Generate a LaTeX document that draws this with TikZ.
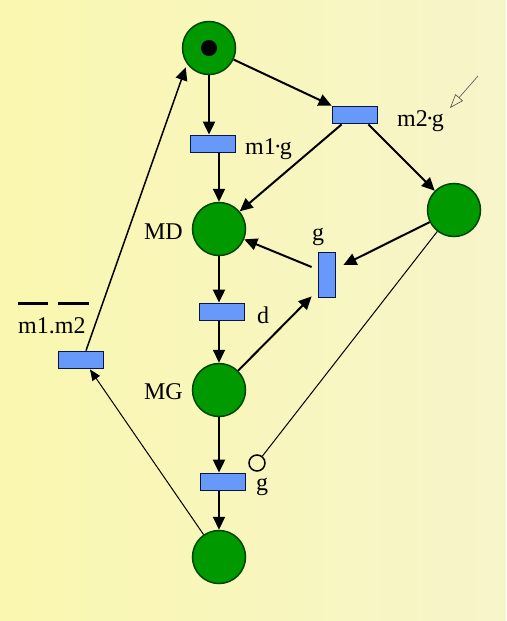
\documentclass[tikz,border=0pt]{standalone}
\usepackage{fontspec}
\setmainfont{Liberation Serif}
\usetikzlibrary{arrows.meta}
\definecolor{bgleft}{RGB}{250,247,176}
\definecolor{bgright}{RGB}{247,245,202}
\definecolor{placegreen}{RGB}{0,153,0}
\definecolor{placeedge}{RGB}{0,70,0}
\definecolor{transblue}{RGB}{102,153,250}
\definecolor{transedge}{RGB}{10,20,70}
\newcommand{\gdot}{\kern-2pt·\kern-2pt}
\tikzset{
  place/.style={circle, draw=placeedge, fill=placegreen, line width=1.5pt, minimum size=53pt, inner sep=0pt},
  trans/.style={rectangle, draw=transedge, fill=transblue, line width=1.8pt, minimum width=45pt, minimum height=17pt, inner sep=0pt},
  vtrans/.style={trans, minimum width=17pt, minimum height=45pt},
  lbl/.style={font=\fontsize{24}{28}\selectfont, inner sep=0pt},
  arc/.style={->, line width=2pt},
  thinarc/.style={-{Triangle[length=11pt,width=9pt]}, line width=1pt},
}
\begin{document}
\begin{tikzpicture}[x=1pt, y=-1pt, >={Triangle[length=13pt,width=12pt]}]
    \shade[left color=bgleft, right color=bgright] (0,0) rectangle (506,621);
    \useasboundingbox (0,0) rectangle (506,621);

    % Places
    \node[place] (p0) at (209,48) {};
    \node[circle, fill=black, minimum size=16pt, inner sep=0pt] (tok) at (p0) {};
    \node[place] (md) at (219,229) {};
    \node[place] (pr) at (454,210) {};
    \node[place] (mg) at (219,390) {};
    \node[place] (pb) at (219,557) {};

    % Transitions
    \node[trans] (t1) at (213,144) {};
    \node[trans] (t2) at (355,115) {};
    \node[vtrans] (tg) at (327,275) {};
    \node[trans] (td) at (222,312) {};
    \node[trans] (tb) at (223,482) {};
    \node[trans] (tl) at (81,360) {};
    \node[circle, draw, line width=1.5pt, minimum size=16pt, inner sep=0pt] (inh) at (257,463) {};

    % Etiketter
    \node[lbl, anchor=base west] (lm1) at (245,154) {m1\gdot g};
    \node[lbl, anchor=base west] (lm2) at (397,126) {m2\gdot g};
    \node[lbl, anchor=base east] (lmd) at (183,239) {MD};
    \node[lbl, anchor=base] (lg1) at (318,240) {g};
    \node[lbl, anchor=base west] (ld) at (257,323) {d};
    \node[lbl, anchor=base east] (lmg) at (183,399) {MG};
    \node[lbl, anchor=base west] (lg2) at (256,490) {g};
    \node[lbl, anchor=base west] (lmm) at (18,333) {m1.m2};
    \draw[line width=3pt] ([shift={(0,-30)}]lmm.base west) -- ++(30,0);
    \draw[line width=3pt] ([shift={(40,-30)}]lmm.base west) -- ++(31,0);

    % Buer
    \draw[arc] (p0.south) -- (p0.south |- t1.north);
    \draw[arc] (md |- t1.south) -- (md.north);
    \draw[arc] (p0) -- (t2.north west);
    \draw[arc] ([shift={(10,0)}]t2.south west) -- (md);
    \draw[arc] ([shift={(-10,0)}]t2.south east) -- (pr);
    \draw[arc] (pr) -- ([shift={(7,-10)}]tg.east);
    \draw[arc] ([shift={(-6,-8)}]tg.west) -- (md);
    \draw[arc] (mg) -- ([shift={(-6,-2)}]tg.south west);
    \draw[arc] (md.south) -- (md.south |- td.north);
    \draw[arc] (mg |- td.south) -- (mg.north);
    \draw[arc] (mg.south) -- (mg.south |- tb.north);
    \draw[arc] (pb |- tb.south) -- (pb.north);
    \draw[line width=1pt] (pr) -- (inh);
    \draw[->, line width=1.5pt] ([shift={(5,0)}]tl.north) -- ([shift={(-4,0)}]p0.225);
    \draw[thinarc] (pb) -- ([shift={(9,0)}]tl.south);

    % Hint
    \coordinate (hint) at (478,76);
    \coordinate (hinttip) at (450,108);
    \draw[-{Triangle[open,length=14pt,width=10pt]}, line width=0.6pt, black!70] (hint) -- (hinttip);
  \end{tikzpicture}
\end{document}
